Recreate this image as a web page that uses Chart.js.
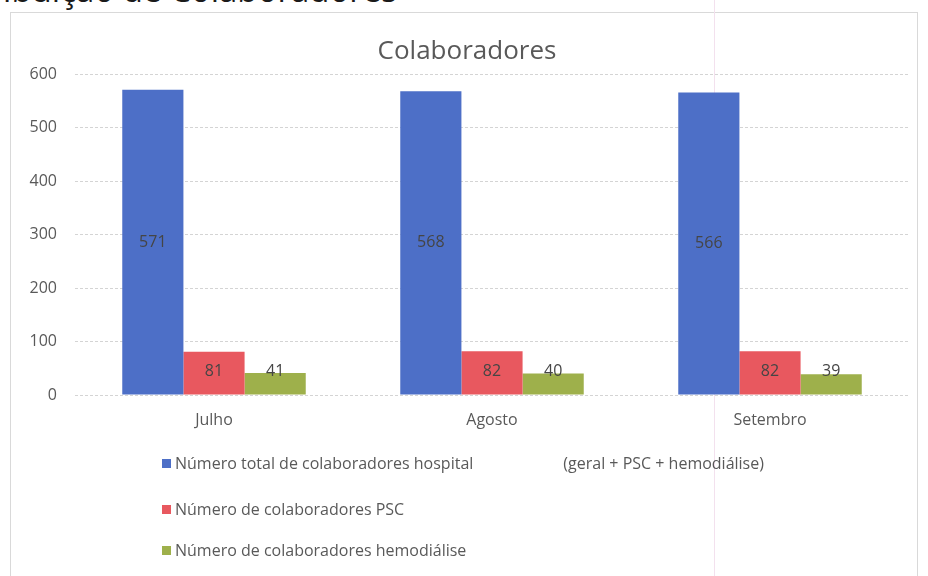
<!DOCTYPE html>
<html>
<head>
<meta charset="utf-8">
<script src="https://cdn.jsdelivr.net/npm/chart.js@4"></script>
<style>
  html, body { margin: 0; padding: 0; background: #fff; }
  body { width: 928px; height: 576px; position: relative; overflow: hidden; font-family: "Open Sans", sans-serif; }
  #heading { position: absolute; right: 531px; top: -27px; font-size: 33px; line-height: 33px; color: #1a1a1a; white-space: nowrap; }
  #frame { position: absolute; left: 10px; top: 12px; width: 906px; height: 600px; border: 1px solid #d9d9d9; }
  #scanLine { position: absolute; left: 714px; top: 0; width: 1px; height: 576px; background: #f3e1ee; }
  #chartBox { position: absolute; left: 0; top: 0; width: 928px; height: 576px; }
  #legend { position: absolute; left: 162px; top: 452px; color: #595959; font-size: 16px; }
  .legend-row { position: absolute; left: 0; white-space: nowrap; height: 22px; line-height: 22px; }
  .legend-box { display: inline-block; width: 9px; height: 9px; margin-right: 4px; vertical-align: 1px; }
  .legend-note { margin-left: 90px; }
</style>
</head>
<body>
<div id="heading">Distribuição de Colaboradores</div>
<div id="frame"></div>
<div id="scanLine"></div>
<div id="chartBox"><canvas id="colabChart"></canvas></div>
<div id="legend"></div>

<script>
// chart data
const months = ['Julho', 'Agosto', 'Setembro'];
const totalHospital = [571, 568, 566];
const totalPSC = [81, 82, 82];
const totalHemodialise = [41, 40, 39];
const yTicks = [0, 100, 200, 300, 400, 500, 600];

const seriesNames = [
    'Número total de colaboradores hospital',
    'Número de colaboradores PSC',
    'Número de colaboradores hemodiálise'
];
const seriesNotes = ['(geral + PSC + hemodiálise)', '', ''];
const seriesColors = ['#4d6fc7', '#e8585f', '#9eb04b'];

// draws the value in the middle of each bar (like excel "center" labels)
const valueLabels = {
    id: 'valueLabels',
    afterDatasetsDraw(chart) {
        const ctx = chart.ctx;
        ctx.save();
        ctx.font = '16px "Open Sans"';
        ctx.fillStyle = '#454545';
        ctx.textAlign = 'center';
        ctx.textBaseline = 'middle';
        chart.data.datasets.forEach((ds, i) => {
            chart.getDatasetMeta(i).data.forEach((bar, j) => {
                const y = Math.min((bar.y + bar.base) / 2, bar.base - 23);
                ctx.fillText(ds.data[j], bar.x, y);
            });
        });
        ctx.restore();
    }
};

document.addEventListener("DOMContentLoaded", function() {
    const ctx = document.getElementById('colabChart').getContext('2d');
    const seriesData = [totalHospital, totalPSC, totalHemodialise];

    new Chart(ctx, {
        type: 'bar',
        data: {
            labels: months,
            datasets: seriesData.map((values, i) => ({
                label: seriesNames[i],
                data: values,
                backgroundColor: seriesColors[i],
                categoryPercentage: 0.66,
                barPercentage: 1.0
            }))
        },
        options: {
            responsive: true,
            maintainAspectRatio: false,
            animation: false,
            layout: { padding: { left: 25, right: 19, top: 0, bottom: 141 } },
            plugins: {
                legend: { display: false },
                tooltip: { enabled: false },
                title: {
                    display: true,
                    text: 'Colaboradores',
                    color: '#595959',
                    font: { family: 'Open Sans', size: 26, weight: 'normal' },
                    padding: { top: 36, bottom: 7 }
                }
            },
            scales: {
                x: {
                    grid: { display: false, drawTicks: false },
                    border: { display: false },
                    ticks: { color: '#595959', font: { family: 'Open Sans', size: 16 }, padding: 16 },
                    afterFit: scale => { scale.height = 40; }
                },
                y: {
                    min: yTicks[0],
                    max: yTicks[yTicks.length - 1],
                    afterBuildTicks: scale => { scale.ticks = yTicks.map(v => ({ value: v })); },
                    grid: { color: '#d4d4d4', drawTicks: false },
                    border: { display: false, dash: [3, 2] },
                    ticks: { color: '#595959', font: { family: 'Open Sans', size: 16 }, padding: 18 },
                    afterFit: scale => { scale.width = 50; }
                }
            }
        },
        plugins: [valueLabels]
    });

    // legend, one entry per line
    const legend = document.getElementById('legend');
    const rowTops = [0, 46, 87];
    seriesNames.forEach((name, i) => {
        const row = document.createElement('div');
        row.className = 'legend-row';
        row.style.top = rowTops[i] + 'px';
        const box = document.createElement('span');
        box.className = 'legend-box';
        box.style.background = seriesColors[i];
        row.appendChild(box);
        row.appendChild(document.createTextNode(name));
        if (seriesNotes[i]) {
            const note = document.createElement('span');
            note.className = 'legend-note';
            note.textContent = seriesNotes[i];
            row.appendChild(note);
        }
        legend.appendChild(row);
    });
});
</script>
</body>
</html>
